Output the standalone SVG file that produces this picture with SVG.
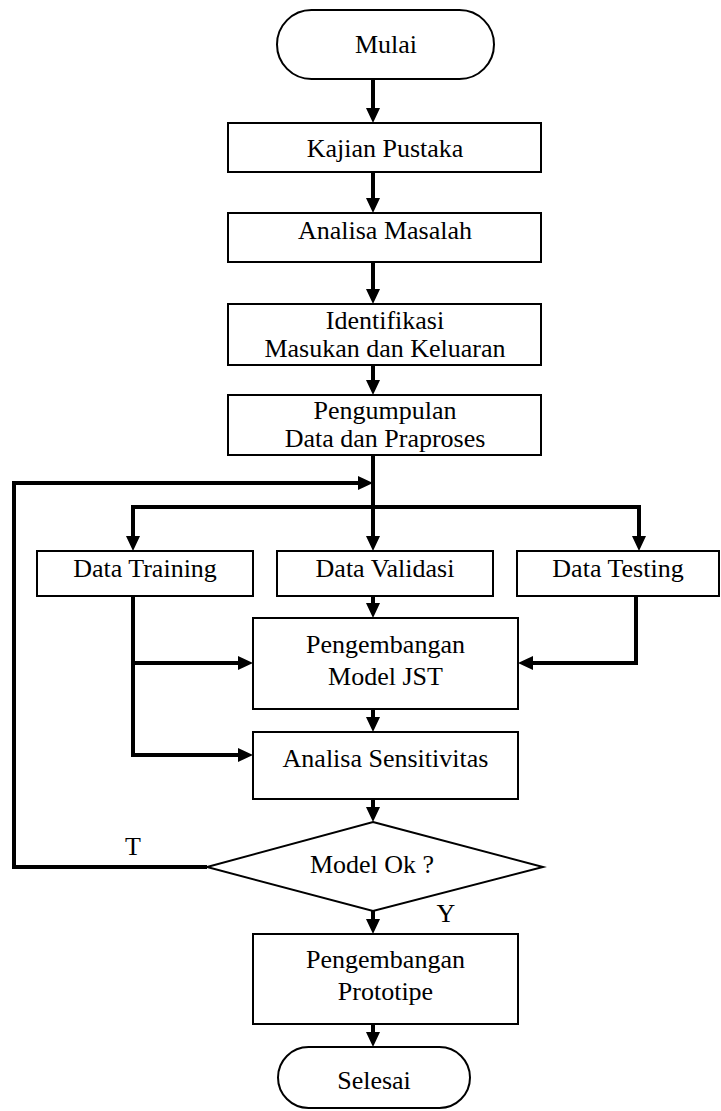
<svg xmlns="http://www.w3.org/2000/svg" width="721" height="1111" viewBox="0 0 721 1111">
  <style>
    .box { fill: #fff; stroke: #000; stroke-width: 2; }
    .lbl { font-family: 'Liberation Serif', Tinos, 'Times New Roman', 'DejaVu Serif', serif; font-size: 26px; fill: #000; text-anchor: middle; }
    .flow { fill: none; stroke: #000; stroke-width: 4; }
  </style>
  <defs>
    <marker id="arrow" markerUnits="userSpaceOnUse" viewBox="0 0 15 14" markerWidth="15" markerHeight="14" refX="10" refY="7" orient="auto">
      <path d="M0,0 L15,7 L0,14 Z" fill="#000"/>
    </marker>
  </defs>

  <rect width="721" height="1111" fill="#fff"/>

  <!-- connectors -->
  <g id="connectors">
    <path class="flow" d="M373,79 V118" marker-end="url(#arrow)"/>
    <path class="flow" d="M373,172 V208" marker-end="url(#arrow)"/>
    <path class="flow" d="M373,262 V299" marker-end="url(#arrow)"/>
    <path class="flow" d="M373,365 V390" marker-end="url(#arrow)"/>
    <path class="flow" d="M373,455 V546" marker-end="url(#arrow)"/>
    <path class="flow" d="M373,507 H133 V546" marker-end="url(#arrow)"/>
    <path class="flow" d="M373,507 H639 V546" marker-end="url(#arrow)"/>
    <path class="flow" d="M373,596 V613" marker-end="url(#arrow)"/>
    <path class="flow" d="M133,596 V755 H248" marker-end="url(#arrow)"/>
    <path class="flow" d="M133,663 H248" marker-end="url(#arrow)"/>
    <path class="flow" d="M636,596 V663 H523" marker-end="url(#arrow)"/>
    <path class="flow" d="M373,709 V727" marker-end="url(#arrow)"/>
    <path class="flow" d="M373,799 V817" marker-end="url(#arrow)"/>
    <path class="flow" d="M373,911 V929" marker-end="url(#arrow)"/>
    <path class="flow" d="M373,1024 V1042" marker-end="url(#arrow)"/>
    <path class="flow" d="M207,867 H14 V483 H368" marker-end="url(#arrow)"/>
    <text class="lbl" x="133" y="855">T</text>
    <text class="lbl" x="446" y="922">Y</text>
  </g>

  <g id="mulai">
    <rect class="box" x="277" y="10" width="217" height="69" rx="34.5"/>
    <text class="lbl" x="386" y="53">Mulai</text>
  </g>

  <g id="kajian-pustaka">
    <rect class="box" x="228" y="123" width="313" height="49"/>
    <text class="lbl" x="385" y="157">Kajian Pustaka</text>
  </g>

  <g id="analisa-masalah">
    <rect class="box" x="228" y="213" width="313" height="49"/>
    <text class="lbl" x="385" y="239">Analisa Masalah</text>
  </g>

  <g id="identifikasi">
    <rect class="box" x="228" y="304" width="313" height="61"/>
    <text class="lbl" x="385" y="329">Identifikasi</text>
    <text class="lbl" x="385" y="357">Masukan dan Keluaran</text>
  </g>

  <g id="pengumpulan">
    <rect class="box" x="228" y="395" width="313" height="60"/>
    <text class="lbl" x="385" y="419">Pengumpulan</text>
    <text class="lbl" x="385" y="447">Data dan Praproses</text>
  </g>

  <g id="data-training">
    <rect class="box" x="37" y="551" width="216" height="45"/>
    <text class="lbl" x="145" y="577">Data Training</text>
  </g>

  <g id="data-validasi">
    <rect class="box" x="277" y="551" width="216" height="45"/>
    <text class="lbl" x="385" y="577">Data Validasi</text>
  </g>

  <g id="data-testing">
    <rect class="box" x="517" y="551" width="202" height="45"/>
    <text class="lbl" x="618" y="577">Data Testing</text>
  </g>

  <g id="pengembangan-model">
    <rect class="box" x="253" y="618" width="265" height="91"/>
    <text class="lbl" x="385.5" y="653">Pengembangan</text>
    <text class="lbl" x="385.5" y="685">Model JST</text>
  </g>

  <g id="analisa-sensitivitas">
    <rect class="box" x="253" y="732" width="265" height="67"/>
    <text class="lbl" x="385.5" y="767">Analisa Sensitivitas</text>
  </g>

  <g id="model-ok">
    <polygon class="box" points="373,822 543,867 373,911 207,867"/>
    <text class="lbl" x="372" y="873">Model Ok ?</text>
  </g>

  <g id="pengembangan-prototipe">
    <rect class="box" x="253" y="934" width="265" height="90"/>
    <text class="lbl" x="385.5" y="968">Pengembangan</text>
    <text class="lbl" x="385.5" y="1000">Prototipe</text>
  </g>

  <g id="selesai">
    <rect class="box" x="278" y="1047" width="192" height="61" rx="30.5"/>
    <text class="lbl" x="374" y="1089">Selesai</text>
  </g>
</svg>
